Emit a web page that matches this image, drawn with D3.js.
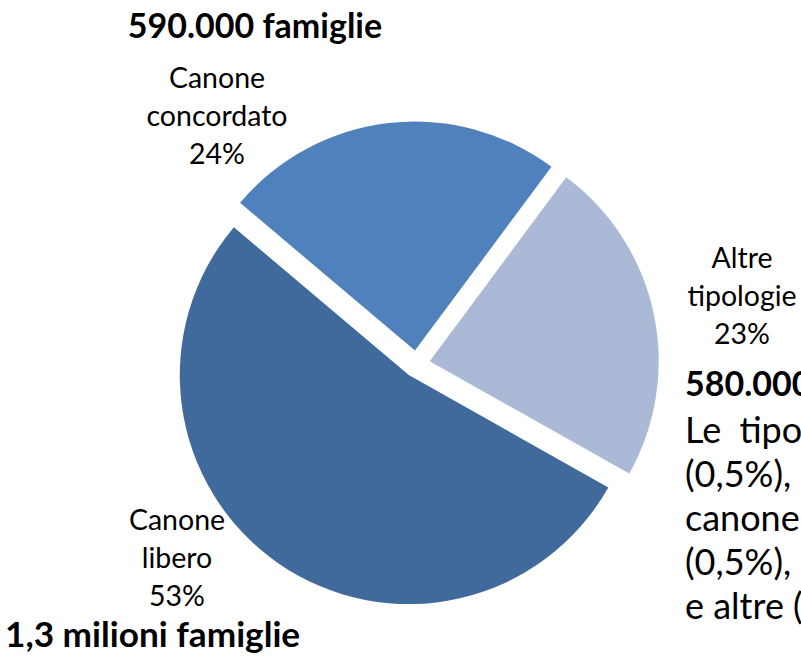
<!DOCTYPE html>
<html>
<head>
<meta charset="utf-8">
<script src="https://cdn.jsdelivr.net/npm/d3@7"></script>
<style>
  html, body { margin: 0; padding: 0; background: #fff; overflow: hidden; }
  svg { display: block; }
  text { font-family: Lato, "Noto Sans", sans-serif; fill: #000; }
</style>
</head>
<body>
<svg id="chart" width="801" height="661"></svg>
<script>
// Contratti di locazione per tipologia (quota % delle famiglie)
const categories = ["Altre tipologie", "Canone libero", "Canone concordato"];
const shares = [23, 53, 24];
const labelLines = [["Altre", "tipologie"], ["Canone", "libero"], ["Canone", "concordato"]];
const colors = ["#AAB9D6", "#416A9C", "#4F81BD"];

// Totali per gruppo
const totals = ["590.000 famiglie", "1,3 milioni famiglie", "580.000 famiglie"];
const noteLines = ["Le tipologie", "(0,5%),", "canone", "(0,5%),", "e altre ("];

const W = 801, H = 661;
const cx = 416.5, cy = 364, radius = 229, explode = 13.5;
const startDeg = 36.6;

const svg = d3.select("#chart");

const pie = d3.pie()
  .sort(null)
  .value(d => d)
  .startAngle(startDeg * Math.PI / 180)
  .endAngle(startDeg * Math.PI / 180 + 2 * Math.PI);

const arc = d3.arc().innerRadius(0).outerRadius(radius);
const arcs = pie(shares);

const g = svg.append("g").attr("transform", `translate(${cx},${cy})`);

g.selectAll("path.slice")
  .data(arcs)
  .join("path")
  .attr("class", "slice")
  .attr("d", arc)
  .attr("fill", (d, i) => colors[i])
  .attr("transform", d => {
    const mid = (d.startAngle + d.endAngle) / 2;
    return `translate(${Math.sin(mid) * explode},${-Math.cos(mid) * explode})`;
  });

// Etichette delle fette: nome su più righe + percentuale
const labelPos = [[742, 268], [177, 530], [217, 88]];
const lineH = 38;
const fmtPct = d => d3.format("d")(d) + "%";

arcs.forEach((d, i) => {
  const t = svg.append("text")
    .attr("text-anchor", "middle")
    .attr("font-size", 28.5);
  const lines = labelLines[i].concat([fmtPct(shares[i])]);
  lines.forEach((s, k) => {
    t.append("tspan")
      .attr("x", labelPos[i][0])
      .attr("y", labelPos[i][1] + k * lineH)
      .text(s);
  });
});

// Totali in grassetto
svg.append("text")
  .attr("x", 255).attr("y", 38)
  .attr("text-anchor", "middle")
  .attr("font-size", 34).attr("font-weight", "bold")
  .text(totals[0]);

svg.append("text")
  .attr("x", 5).attr("y", 647)
  .attr("font-size", 35.2).attr("font-weight", "bold")
  .text(totals[1]);

svg.append("text")
  .attr("x", 685).attr("y", 396)
  .attr("font-size", 34).attr("font-weight", "bold")
  .text(totals[2]);

// Nota giustificata a destra
const note = svg.append("text").attr("font-size", 36);
noteLines.forEach((s, k) => {
  note.append("tspan")
    .attr("x", 685)
    .attr("y", 443 + k * 44)
    .attr("word-spacing", k === 0 ? 9 : 0)
    .text(s);
});
</script>
</body>
</html>
